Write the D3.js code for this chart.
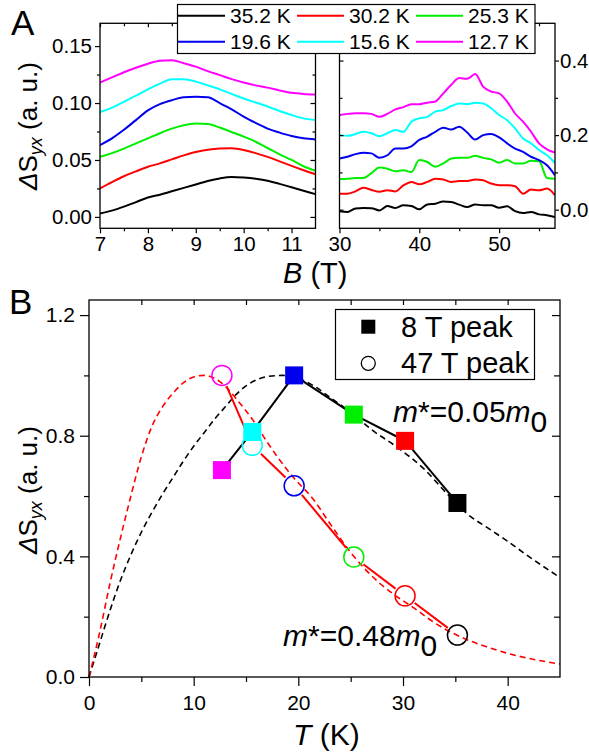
<!DOCTYPE html>
<html><head><meta charset="utf-8">
<script src="https://cdn.jsdelivr.net/npm/d3@7"></script>
<style>body{margin:0;background:#fff} svg{display:block}</style>
</head><body><svg id="c" width="589" height="756"></svg>
<script>
// ---------- DATA ----------
const tempLabels = ["35.2 K","30.2 K","25.3 K","19.6 K","15.6 K","12.7 K"];
const tempColors = ["#000000","#ff0000","#00ee00","#0000ee","#00ffff","#ff00ff"];

const lowB = [7,7.25,7.5,7.75,8,8.25,8.5,8.75,9,9.25,9.5,9.75,10,10.25,10.5,10.75,11,11.25,11.5];
const low352 = [0.003,0.0055,0.009,0.013,0.017,0.0195,0.0225,0.0255,0.0285,0.0315,0.0338,0.035,0.0345,0.0335,0.0318,0.029,0.026,0.023,0.020];
const low302 = [0.025,0.0305,0.0357,0.040,0.044,0.047,0.0505,0.054,0.057,0.059,0.060,0.0602,0.0588,0.056,0.0527,0.0488,0.0448,0.041,0.0375];
const low253 = [0.0527,0.056,0.060,0.0645,0.069,0.0735,0.0775,0.0805,0.082,0.0815,0.0785,0.0745,0.0705,0.066,0.0605,0.055,0.050,0.0445,0.0405];
const low196 = [0.063,0.069,0.0765,0.085,0.0935,0.099,0.1025,0.105,0.1055,0.105,0.100,0.0945,0.088,0.0825,0.0775,0.074,0.071,0.069,0.068];
const low156 = [0.092,0.096,0.101,0.1065,0.112,0.117,0.1208,0.1208,0.1188,0.1155,0.112,0.108,0.104,0.1005,0.097,0.093,0.0895,0.0865,0.085];
const low127 = [0.118,0.1225,0.127,0.131,0.1345,0.1372,0.1375,0.135,0.132,0.128,0.1245,0.121,0.118,0.1155,0.1135,0.111,0.109,0.108,0.1075];

const highB = [30,31,32,33,34,35,36,37,38,39,40,41,42,43,44,45,46,47,48,49,50,51,52,53,54,55,56,57];
const high352 = [-0.004,-0.006,0.003,0.0045,0.004,-0.002,0.0099,0.0045,0.0117,0.010,0.001,0.014,0.016,0.022,0.0206,0.0135,0.007,0.014,0.0117,0.012,0.005,0.009,-0.004,-0.009,-0.006,-0.0126,-0.015,-0.020];
const high302 = [0.043,0.043,0.049,0.059,0.053,0.048,0.052,0.049,0.065,0.0745,0.068,0.0745,0.083,0.081,0.0745,0.077,0.077,0.081,0.079,0.070,0.0655,0.0655,0.063,0.043,0.054,0.052,0.0565,0.0386];
const high253 = [0.082,0.083,0.085,0.085,0.098,0.113,0.110,0.103,0.106,0.101,0.133,0.128,0.115,0.124,0.137,0.139,0.139,0.1445,0.139,0.135,0.126,0.133,0.124,0.124,0.131,0.130,0.085,0.083];
const high196 = [0.137,0.142,0.149,0.153,0.151,0.139,0.146,0.164,0.164,0.170,0.187,0.196,0.209,0.220,0.215,0.2225,0.207,0.188,0.200,0.203,0.194,0.178,0.164,0.155,0.142,0.133,0.119,0.092];
const high156 = [0.200,0.198,0.203,0.209,0.205,0.197,0.205,0.2135,0.209,0.236,0.245,0.249,0.263,0.267,0.278,0.285,0.283,0.287,0.285,0.272,0.254,0.240,0.218,0.191,0.178,0.160,0.146,0.125];
const high127 = [0.254,0.257,0.259,0.259,0.257,0.249,0.257,0.269,0.275,0.283,0.283,0.287,0.290,0.312,0.335,0.353,0.351,0.364,0.330,0.317,0.312,0.290,0.258,0.236,0.209,0.178,0.162,0.153];

const peakTemps  = [12.7,15.6,19.6,25.3,30.2,35.2];
const peakColors = ["#ff00ff","#00ffff","#0000ee","#00ee00","#ff0000","#000000"];
const peak8T  = [0.686,0.8125,1.0,0.87,0.783,0.577];
const peak47T = [1.0,0.768,0.634,0.398,0.269,0.139];

const fitT048 = [0,1,2,3,4,5,6,7,8,9,10,11,12,13,14,15.7,17,19.2,21.5,23,25.3,27.8,29.2,31,33,35.5,38,40.6,43,45];
const fitV048 = [0,0.145,0.31,0.46,0.60,0.73,0.83,0.895,0.94,0.975,0.995,1.0,0.99,0.965,0.925,0.85,0.78,0.675,0.586,0.51,0.40,0.31,0.272,0.23,0.18,0.133,0.10,0.073,0.055,0.043];
const fitT005 = [0,1,2,3,4,5,6,7,8,9,10,11,12,13,14,15,16,17,18.5,20,21.5,23.1,25.3,27,29.4,32,34.2,36.1,38.2,40,42,45];
const fitV005 = [0,0.11,0.22,0.32,0.405,0.48,0.545,0.605,0.66,0.715,0.765,0.81,0.855,0.895,0.935,0.965,0.985,0.996,1.0,0.99,0.965,0.925,0.87,0.82,0.763,0.69,0.608,0.542,0.492,0.45,0.40,0.33];

const lowTicks = [7,8,9,10,11], lowMinor = [7.5,8.5,9.5,10.5];
const lowY = [0,0.05,0.10,0.15], lowYMinor = [0.025,0.075,0.125];
const highTicks = [30,40,50], highMinor = [35,45,55];
const highY = [0,0.2,0.4], highYMinor = [0.1,0.3];
const botX = [0,10,20,30,40], botXMinor = [5,15,25,35];
const botY = [0,0.4,0.8,1.2], botYMinor = [0.2,0.6,1.0];

// ---------- DRAW ----------
const FONT = '"Liberation Sans", Arial, Helvetica, sans-serif';
const svg = d3.select("#c").attr("font-family", FONT);

const xL = d3.scaleLinear().domain([7,11.5]).range([100,315.5]);
const yL = d3.scaleLinear().domain([-0.01,0.17]).range([228.3,23.3]);
const xR = d3.scaleLinear().domain([30,57]).range([339.5,555]);
const yR = d3.scaleLinear().domain([-0.05,0.5]).range([228.3,23.3]);
const xB = d3.scaleLinear().domain([0,45]).range([89,560]);
const yB = d3.scaleLinear().domain([0,1.25]).range([677,300]);

function drawAxis(tx, ty, gen, scale, values, size, fmt, fs, pad) {
  const a = gen(scale).tickValues(values).tickSize(size).tickSizeOuter(0)
    .tickPadding(pad || 3).tickFormat(fmt ? fmt : "");
  const g = svg.append("g").attr("transform", `translate(${tx},${ty})`).call(a);
  g.select(".domain").remove();
  g.selectAll("line").attr("stroke", "#000").attr("stroke-width", 1.2);
  g.selectAll("text").attr("font-size", fs || 20).attr("font-family", FONT).attr("fill", "#000");
  return g;
}

function frame(x0, y0, x1, y1) {
  svg.append("rect").attr("x", x0).attr("y", y0).attr("width", x1 - x0).attr("height", y1 - y0)
    .attr("fill", "none").attr("stroke", "#000").attr("stroke-width", 1.3);
}

const defs = svg.append("defs");
defs.append("clipPath").attr("id", "clipL").append("rect")
  .attr("x", xL.range()[0]).attr("y", yL.range()[1]).attr("width", xL.range()[1] - xL.range()[0]).attr("height", yL.range()[0] - yL.range()[1]);
defs.append("clipPath").attr("id", "clipR").append("rect")
  .attr("x", xR.range()[0]).attr("y", yR.range()[1]).attr("width", xR.range()[1] - xR.range()[0]).attr("height", yR.range()[0] - yR.range()[1]);

// ---- Panel A ----
const lowSeries = [low352, low302, low253, low196, low156, low127];
const lineL = d3.line().x(d => xL(d[0])).y(d => yL(d[1])).curve(d3.curveMonotoneX);
const gL = svg.append("g").attr("clip-path", "url(#clipL)");
lowSeries.forEach((s, i) => {
  gL.append("path").attr("d", lineL(lowB.map((b, j) => [b, s[j]])))
    .attr("fill", "none").attr("stroke", tempColors[i]).attr("stroke-width", 2);
});
const highSeries = [high352, high302, high253, high196, high156, high127];
const lineR = d3.line().x(d => xR(d[0])).y(d => yR(d[1])).curve(d3.curveMonotoneX);
const gR = svg.append("g").attr("clip-path", "url(#clipR)");
highSeries.forEach((s, i) => {
  gR.append("path").attr("d", lineR(highB.map((b, j) => [b, s[j]])))
    .attr("fill", "none").attr("stroke", tempColors[i]).attr("stroke-width", 2).attr("stroke-linejoin", "round");
});

frame(100, 23.3, 315.5, 228.3);
frame(339.5, 23.3, 555, 228.3);
drawAxis(100, 0, d3.axisLeft, yL, lowY, 5, d3.format(".2f"), 20.5, 3);
drawAxis(100, 0, d3.axisLeft, yL, lowYMinor, 3);
drawAxis(315.5, 0, d3.axisRight, yL, lowY, -5);
drawAxis(315.5, 0, d3.axisRight, yL, lowYMinor, -3);
drawAxis(0, 228.3, d3.axisBottom, xL, lowTicks, 5, d3.format("d"), 20.5, 3);
drawAxis(0, 228.3, d3.axisBottom, xL, lowMinor, 3);
drawAxis(0, 23.3, d3.axisTop, xL, lowTicks, -4);
drawAxis(0, 23.3, d3.axisTop, xL, lowMinor, -3);

drawAxis(339.5, 0, d3.axisLeft, yR, highY, -4);
drawAxis(339.5, 0, d3.axisLeft, yR, highYMinor, -3);
drawAxis(555, 0, d3.axisRight, yR, highY, 4, d3.format(".1f"), 20.5, 1);
drawAxis(555, 0, d3.axisRight, yR, highYMinor, 3);
drawAxis(0, 228.3, d3.axisBottom, xR, highTicks, 5, d3.format("d"), 20.5, 3);
drawAxis(0, 228.3, d3.axisBottom, xR, highMinor, 3);
drawAxis(0, 23.3, d3.axisTop, xR, highTicks, -4);
drawAxis(0, 23.3, d3.axisTop, xR, highMinor, -3);

// legend A
svg.append("rect").attr("x", 177.5).attr("y", 4.5).attr("width", 357.5).attr("height", 49)
  .attr("fill", "#fff").attr("stroke", "#000").attr("stroke-width", 1.2);
tempLabels.forEach((t, i) => {
  const col = i % 3, row = Math.floor(i / 3);
  const x0 = 178 + col * 119, yl = 15.7 + row * 26;
  svg.append("line").attr("x1", x0).attr("x2", x0 + 47).attr("y1", yl).attr("y2", yl)
    .attr("stroke", tempColors[i]).attr("stroke-width", 2);
  svg.append("text").attr("x", x0 + 52).attr("y", yl + 7).attr("font-size", 21).text(t);
});

svg.append("text").attr("x", 11).attr("y", 35).attr("font-size", 35).text("A");
function yTitle(cx, cy) {
  const t = svg.append("text").attr("transform", `translate(${cx},${cy}) rotate(-90)`)
    .attr("text-anchor", "middle").attr("font-size", 26);
  t.append("tspan").attr("font-style", "italic").text("\u0394");
  t.append("tspan").text("S");
  t.append("tspan").attr("font-style", "italic").attr("font-size", 18).attr("dy", 5).text("yx");
  t.append("tspan").attr("dy", -5).text(" (a. u.)");
}
yTitle(37, 126);
const bt = svg.append("text").attr("x", 283).attr("y", 283).attr("font-size", 29);
bt.append("tspan").attr("font-style", "italic").text("B");
bt.append("tspan").text(" (T)");

// ---- Panel B ----
const fitLine = d3.line().x(d => xB(d[0])).y(d => yB(d[1])).curve(d3.curveMonotoneX);
svg.append("path").attr("d", fitLine(fitT005.map((t, i) => [t, fitV005[i]])))
  .attr("fill", "none").attr("stroke", "#000").attr("stroke-width", 1.6).attr("stroke-dasharray", "6,4");
svg.append("path").attr("d", fitLine(fitT048.map((t, i) => [t, fitV048[i]])))
  .attr("fill", "none").attr("stroke", "#ff0000").attr("stroke-width", 1.6).attr("stroke-dasharray", "6,4");

const sqPts = peakTemps.map((t, i) => [xB(t), yB(peak8T[i])]);
const ciPts = peakTemps.map((t, i) => [xB(t), yB(peak47T[i])]);
function segs(pts, gap, color) {
  for (let i = 0; i < pts.length - 1; i++) {
    const [x1, y1] = pts[i], [x2, y2] = pts[i + 1];
    const L = Math.hypot(x2 - x1, y2 - y1), ux = (x2 - x1) / L, uy = (y2 - y1) / L;
    svg.append("line").attr("x1", x1 + ux * gap).attr("y1", y1 + uy * gap)
      .attr("x2", x2 - ux * gap).attr("y2", y2 - uy * gap)
      .attr("stroke", color).attr("stroke-width", 2);
  }
}
segs(sqPts, 9, "#000");
segs(ciPts, 12, "#ff0000");

sqPts.forEach((p, i) => {
  svg.append("rect").attr("x", p[0] - 9).attr("y", p[1] - 9).attr("width", 18).attr("height", 18)
    .attr("fill", peakColors[i]);
});
ciPts.forEach((p, i) => {
  svg.append("circle").attr("cx", p[0]).attr("cy", p[1]).attr("r", 10)
    .attr("fill", "none").attr("stroke", peakColors[i]).attr("stroke-width", 1.5);
});

frame(89, 300, 560, 677);
drawAxis(89, 0, d3.axisLeft, yB, botY, 9, d3.format(".1f"), 21, 5);
drawAxis(89, 0, d3.axisLeft, yB, botYMinor, 5);
drawAxis(560, 0, d3.axisRight, yB, botY.slice(1), -8);
drawAxis(560, 0, d3.axisRight, yB, botYMinor, -6);
drawAxis(0, 677, d3.axisBottom, xB, botX, 9, d3.format("d"), 21, 9);
drawAxis(0, 677, d3.axisBottom, xB, botXMinor, 5);
drawAxis(0, 300, d3.axisTop, xB, botX.slice(1), -5);
drawAxis(0, 300, d3.axisTop, xB, botXMinor, -5);

// legend B
svg.append("rect").attr("x", 335.5).attr("y", 309.5).attr("width", 199).attr("height", 70)
  .attr("fill", "#fff").attr("stroke", "#000").attr("stroke-width", 1.2);
svg.append("rect").attr("x", 368.3 - 7).attr("y", 326.7 - 7).attr("width", 14).attr("height", 14).attr("fill", "#000");
svg.append("circle").attr("cx", 368.3).attr("cy", 363.3).attr("r", 7).attr("fill", "none").attr("stroke", "#000").attr("stroke-width", 1.3);
svg.append("text").attr("x", 401).attr("y", 337).attr("font-size", 29).text("8 T peak");
svg.append("text").attr("x", 401).attr("y", 373).attr("font-size", 29).text("47 T peak");

function mass(x, y, val) {
  const t = svg.append("text").attr("x", x).attr("y", y).attr("font-size", 30);
  t.append("tspan").attr("font-style", "italic").text("m");
  t.append("tspan").text("*=" + val);
  t.append("tspan").attr("font-style", "italic").text("m");
  t.append("tspan").attr("dy", 10).text("0");
}
mass(393, 422, "0.05");
mass(283, 646, "0.48");

svg.append("text").attr("x", 9).attr("y", 314).attr("font-size", 35).text("B");
yTitle(37, 490);
const tt = svg.append("text").attr("x", 293).attr("y", 745).attr("font-size", 30);
tt.append("tspan").attr("font-style", "italic").text("T");
tt.append("tspan").text(" (K)");
</script>
</body></html>
